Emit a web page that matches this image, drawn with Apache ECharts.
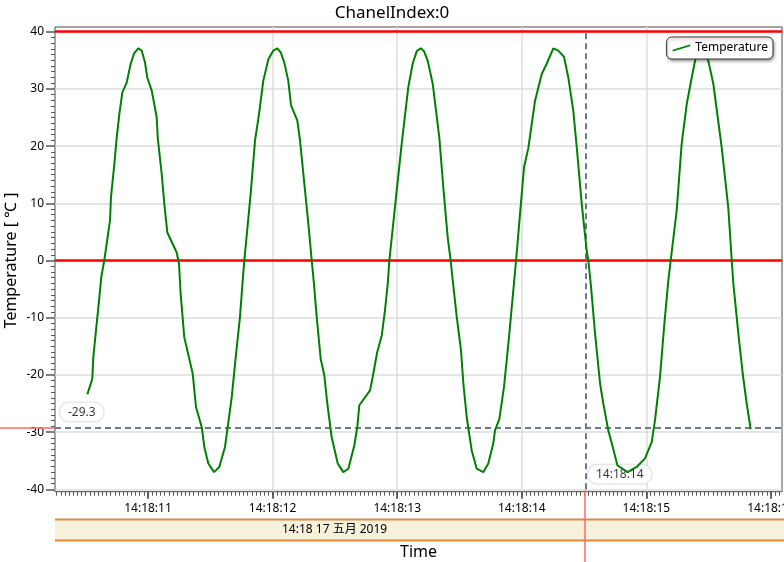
<!DOCTYPE html>
<html><head><meta charset="utf-8">
<script src="https://cdn.jsdelivr.net/npm/echarts@6/dist/echarts.min.js"></script>
<style>html,body{margin:0;padding:0;background:#fff}#c{width:784px;height:562px}</style>
</head><body><div id="c"></div>
<script>
// ---- data (seconds within minute 14:18, 17 May 2019) ----
const seconds = [
10.513,10.553,10.561,10.580,10.607,10.625,10.649,10.695,10.703,10.730,
10.749,10.770,10.794,10.829,10.861,10.888,10.922,10.949,10.976,10.994,
11.030,11.070,11.078,11.110,11.131,11.155,11.230,11.249,11.262,11.291,
11.359,11.385,11.431,11.452,11.484,11.530,11.572,11.618,11.636,11.672,
11.704,11.738,11.760,11.773,11.824,11.859,11.891,11.925,11.966,12.006,
12.038,12.065,12.094,12.126,12.148,12.198,12.220,12.252,12.287,12.314,
12.332,12.354,12.386,12.415,12.439,12.474,12.523,12.567,12.608,12.656,
12.680,12.696,12.782,12.803,12.840,12.876,12.902,12.924,12.937,12.996,
13.036,13.089,13.124,13.157,13.189,13.215,13.245,13.285,13.338,13.370,
13.405,13.429,13.446,13.478,13.512,13.531,13.558,13.598,13.638,13.691,
13.731,13.771,13.785,13.820,13.857,13.892,13.927,13.954,13.986,14.018,
14.052,14.106,14.160,14.200,14.253,14.293,14.339,14.373,14.413,14.441,
14.481,14.521,14.534,14.556,14.588,14.628,14.654,14.694,14.730,14.767,
14.847,14.922,14.989,15.043,15.069,15.109,15.144,15.176,15.195,15.243,
15.283,15.324,15.364,15.390,15.414,15.442,15.470,15.497,15.537,15.604,
15.657,15.685,15.698,15.738,15.773,15.805,15.837];
const temperatures = [
-23.4,-20.7,-16.9,-12.8,-7.0,-2.9,0,7.0,11.1,16.9,
21.5,25.6,29.4,31.1,34.4,36.2,37.1,36.7,34.6,32.0,
29.7,25.0,21.5,15.1,9.9,4.9,1.4,-0.6,-5.8,-13.4,
-19.8,-25.6,-29.1,-32.6,-35.5,-37.0,-36.1,-32.6,-29.7,-23.9,
-16.9,-9.9,-3.5,0,11.7,21.0,25.6,31.4,35.2,36.7,
37.1,36.4,34.6,31.4,27.1,24.5,21.0,14.0,6.4,0,
-4.1,-9.9,-17.2,-20.1,-25.0,-30.9,-35.5,-37.0,-36.4,-32.3,
-29.1,-25.3,-22.7,-20.4,-16.0,-13.1,-8.7,-4.1,0,12.2,
20.4,30.3,34.4,36.6,37.1,36.6,34.9,30.9,21.5,12.8,
4.1,0,-3.5,-9.9,-15.7,-21.5,-27.4,-33.2,-36.4,-37.0,
-35.5,-32.0,-29.7,-27.7,-22.1,-14.6,-6.4,0,8.2,16.3,
19.6,27.9,32.6,34.4,37.1,36.7,35.6,32.0,26.2,19.8,
9.9,1.7,0,-4.7,-12.8,-21.5,-25.0,-29.7,-32.6,-35.8,
-37.0,-36.1,-34.6,-31.7,-27.9,-20.4,-11.1,-3.5,0,8.7,
20.4,27.4,32.0,34.9,36.7,37.1,36.5,34.9,30.9,19.8,
9.3,0,-4.1,-12.8,-19.8,-25.0,-29.5];
const xRange = [10.2536, 16.0883];
const yRange = [-40, 40];
const majorTickSeconds = [11, 12, 13, 14, 15, 16];
const majorTickLabels = ['14:18:11','14:18:12','14:18:13','14:18:14','14:18:15','14:18:16'];
const limitLines = [0, 40];
const cursorSecond = 14.507;
const cursorValue = -29.3;
const cursorTimeLabel = '14:18:14';
const dateLabel = '14:18 17 五月 2019';
const titleText = 'ChanelIndex:0';
const seriesName = 'Temperature';

const FONT = '"Noto Sans", "Noto Sans CJK SC", sans-serif';
const chart = echarts.init(document.getElementById('c'), null, {renderer: 'canvas'});

const minorTicks = [];
for (let k = Math.ceil(xRange[0] * 30); k <= Math.floor(xRange[1] * 30); k++) minorTicks.push(k / 30);
const labelFor = v => {
  const i = majorTickSeconds.findIndex(s => Math.abs(s - v) < 1e-6);
  return i >= 0 ? majorTickLabels[i] : '';
};
const boxLabel = {
  show: true, color: '#000', fontSize: 12, fontFamily: FONT,
  backgroundColor: '#fff', borderColor: '#d8d8d8', borderWidth: 1, borderRadius: 9,
  padding: [4, 8, 3, 8]
};
const dashStyle = {color: '#6b7a8b', width: 2, type: [6, 4]};

const option = {
  animation: false,
  textStyle: {fontFamily: FONT},
  title: {text: titleText, left: 'center', top: 0,
    textStyle: {fontSize: 17, fontWeight: 'normal', color: '#000', fontFamily: FONT}},
  legend: {
    data: [{name: seriesName, icon: 'path://M0,7 L20,1 L20,3 L0,9 Z'}],
    right: 11, top: 37, itemWidth: 18, itemHeight: 7, z: 20,
    padding: [5, 5, 5, 6], backgroundColor: '#fff',
    borderColor: '#333', borderWidth: 1, borderRadius: 5,
    shadowColor: 'rgba(0,0,0,0.35)', shadowBlur: 3, shadowOffsetX: 1, shadowOffsetY: 2,
    textStyle: {fontSize: 12, color: '#000', fontFamily: FONT}
  },
  grid: [
    {left: 55, right: 2, top: 31.7, bottom: 72.7, outerBoundsMode: 'none', containLabel: false},
    {left: 55, right: 2, top: 27, bottom: 70.3, outerBoundsMode: 'none', containLabel: false,
      show: true, borderColor: '#4a4a4a', borderWidth: 1, backgroundColor: 'transparent'}
  ],
  xAxis: [
    {type: 'value', gridIndex: 0, min: xRange[0], max: xRange[1], show: false},
    {type: 'value', gridIndex: 1, position: 'bottom', min: xRange[0], max: xRange[1],
      axisLine: {show: false},
      axisTick: {show: true, customValues: majorTickSeconds, length: 7, lineStyle: {color: '#333', width: 1.5}},
      axisLabel: {customValues: majorTickSeconds, formatter: labelFor, fontSize: 12, color: '#000', margin: 11, fontFamily: FONT},
      splitLine: {show: true, showMinLine: false, showMaxLine: false, lineStyle: {color: '#dcdcdc', width: 1.5}},
      name: 'Time', nameLocation: 'middle', nameGap: 53, nameMoveOverlap: false,
      nameTextStyle: {fontSize: 16, color: '#000', fontFamily: FONT}},
    {type: 'value', gridIndex: 1, position: 'bottom', min: xRange[0], max: xRange[1],
      axisLine: {show: false},
      axisTick: {show: true, customValues: minorTicks, length: 4, lineStyle: {color: '#555', width: 1}},
      axisLabel: {show: false}, splitLine: {show: false}}
  ],
  yAxis: [
    {type: 'value', gridIndex: 0, min: yRange[0], max: yRange[1], interval: 10,
      axisLine: {show: false},
      axisTick: {show: true, length: 9, lineStyle: {color: '#555', width: 1.5}},
      minorTick: {show: true, splitNumber: 10, length: 4, lineStyle: {color: '#555', width: 1}},
      axisLabel: {fontSize: 12, color: '#000', margin: 11, fontFamily: FONT},
      splitLine: {show: true, lineStyle: {color: '#dcdcdc', width: 1.5}},
      name: 'Temperature [ ℃ ]', nameLocation: 'middle', nameGap: 36, nameMoveOverlap: false,
      nameTextStyle: {fontSize: 16, color: '#000', fontFamily: FONT}},
    {type: 'value', gridIndex: 1, min: 0, max: 1, show: false}
  ],
  series: [
    {type: 'line', name: seriesName, xAxisIndex: 0, yAxisIndex: 0,
      data: seconds.map((s, i) => [s, temperatures[i]]),
      symbol: 'none', showSymbol: false, z: 4,
      lineStyle: {color: '#008000', width: 2}, itemStyle: {color: '#008000'},
      markLine: {
        silent: true, symbol: 'none', animation: false, label: {show: false}, z: 3,
        data: [
          ...limitLines.map(v => ({yAxis: v, lineStyle: {color: '#ff0000', width: 2.5, type: 'solid'}})),
          {xAxis: cursorSecond, lineStyle: dashStyle},
          {yAxis: cursorValue, lineStyle: dashStyle}
        ]
      }},
    {type: 'scatter', name: 'cursorValue', xAxisIndex: 0, yAxisIndex: 0, clip: false, silent: true,
      symbolSize: 0, z: 2, data: [[xRange[0], cursorValue]],
      label: Object.assign({}, boxLabel, {position: 'right', distance: 5, offset: [0, -16],
        formatter: () => cursorValue.toFixed(1)})},
    {type: 'scatter', name: 'cursorTime', xAxisIndex: 0, yAxisIndex: 0, clip: false, silent: true,
      symbolSize: 0, z: 2, data: [[cursorSecond, yRange[0]]],
      label: Object.assign({}, boxLabel, {position: 'right', distance: 3, offset: [0, -15],
        formatter: () => cursorTimeLabel})}
  ]
};
chart.setOption(option);

const pc = chart.convertToPixel({xAxisIndex: 0, yAxisIndex: 0}, [cursorSecond, cursorValue]);
const pb = chart.convertToPixel({xAxisIndex: 0, yAxisIndex: 0}, [cursorSecond, yRange[0]]);
const leftPx = chart.convertToPixel({xAxisIndex: 0}, xRange[0]);
const W = chart.getWidth(), H = chart.getHeight();
chart.setOption({
  graphic: [
    {type: 'rect', z: 1, shape: {x: leftPx, y: 520, width: W - leftPx, height: 20}, style: {fill: '#f5f1da'}},
    {type: 'line', z: 2, shape: {x1: leftPx, y1: 519.5, x2: W, y2: 519.5}, style: {stroke: '#e0893a', lineWidth: 2}},
    {type: 'line', z: 2, shape: {x1: leftPx, y1: 540.5, x2: W, y2: 540.5}, style: {stroke: '#e0893a', lineWidth: 2}},
    {type: 'text', z: 3, x: 282, y: 530, style: {text: dateLabel, fill: '#000', font: '12px ' + FONT, verticalAlign: 'middle'}},
    {type: 'line', z: 10, shape: {x1: pc[0], y1: pb[1] + 1, x2: pc[0], y2: H}, style: {stroke: '#ff6a6a', lineWidth: 1.5}},
    {type: 'line', z: 10, shape: {x1: 0, y1: pc[1], x2: leftPx, y2: pc[1]}, style: {stroke: '#ff6a6a', lineWidth: 1.5}}
  ]
});
</script>
</body></html>
